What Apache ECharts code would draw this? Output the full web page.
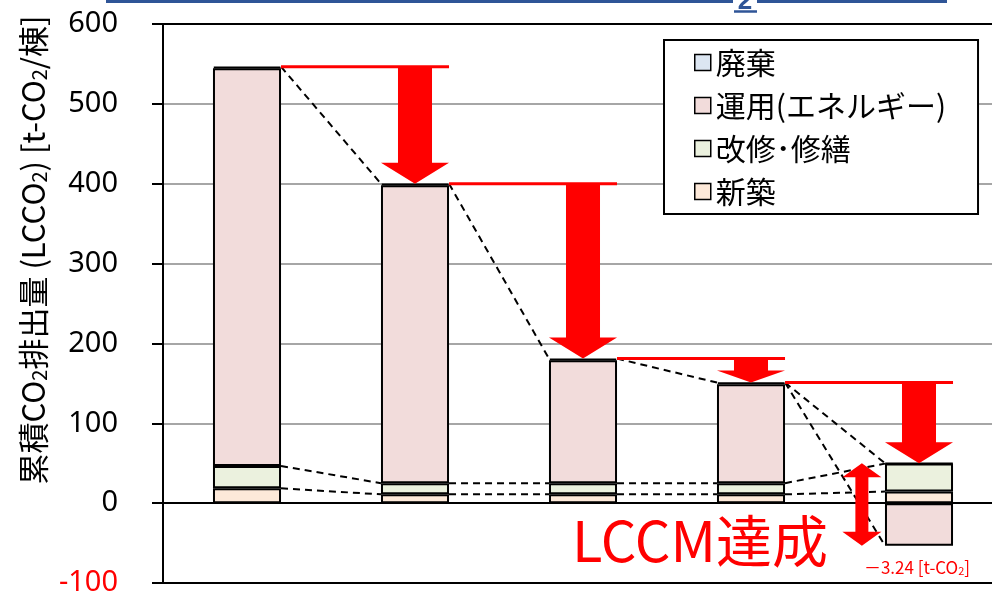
<!DOCTYPE html>
<html>
<head>
<meta charset="utf-8">
<script src="https://cdn.jsdelivr.net/npm/echarts@6/dist/echarts.min.js"></script>
<style>
  html, body { margin: 0; padding: 0; background: #fff; }
  #chart { width: 992px; height: 595px; }
</style>
</head>
<body>
<div id="chart"></div>
<script>
// Cases compared (no category labels are drawn on the axis)
const categories = ['1', '2', '3', '4', '5'];

// Cumulative CO2 per building [t-CO2], by life-cycle stage
const newBuild   = [18.5, 11, 11, 11, 14.5];     // 新築
const renovation = [28, 14, 14, 14, 35];         // 改修・修繕
const operation  = [498, 373, 154, 124, -53.24]; // 運用(エネルギー)
const disposal   = [2, 2, 2, 2, 0.5];            // 廃棄

// Value axis ticks
const yMin = -100, yMax = 600, yStep = 100;

const seriesNames = ['新築', '改修･修繕', '運用(エネルギー)', '廃棄'];
const fills = ['#FDE9D9', '#EBF1DE', '#F2DCDB', '#DCE6F2'];
const stages = [newBuild, renovation, operation, disposal];

const BAR_RATIO = 0.405;

// Derived stack levels
const newTop = newBuild.slice();
const renTop = newBuild.map((v, i) => v + renovation[i]);
const posTop = categories.map((_, i) => stages.reduce((s, a) => s + Math.max(a[i], 0), 0));
const negBottom = categories.map((_, i) => stages.reduce((s, a) => s + Math.min(a[i], 0), 0));
const total = categories.map((_, i) => stages.reduce((s, a) => s + a[i], 0));

// Dashed connectors between neighbouring bars, and the reduction arrows
const connectors = [];
const reductions = [];
for (let i = 0; i < categories.length - 1; i++) {
  connectors.push([i, newTop[i], newTop[i + 1]]);
  connectors.push([i, renTop[i], renTop[i + 1]]);
  if (negBottom[i + 1] < 0) {
    connectors.push([i, total[i], posTop[i + 1]]);
    connectors.push([i, total[i], negBottom[i + 1]]);
    reductions.push([i, total[i], posTop[i + 1]]);
  } else {
    connectors.push([i, total[i], total[i + 1]]);
    reductions.push([i, total[i], total[i + 1]]);
  }
}
const last = categories.length - 1;
const spans = [[last, posTop[last], negBottom[last]]];
const netLabels = [[last, total[last], negBottom[last]]];

const RED = '#FF0000';

function halfBar(api) {
  return api.size([1, 0])[0] * BAR_RATIO / 2;
}

const chart = echarts.init(document.getElementById('chart'), null, { renderer: 'canvas' });

const barSeries = seriesNames.map((name, k) => ({
  name: name,
  type: 'bar',
  stack: 'lcco2',
  barWidth: (BAR_RATIO * 100) + '%',
  data: stages[k],
  itemStyle: { color: fills[k], borderColor: '#000', borderWidth: 2 },
  z: 2,
  silent: true
}));

const option = {
  animation: false,
  grid: {
    left: 163, top: 24, right: -11, bottom: 12,
    outerBoundsMode: 'none',
    containLabel: false,
    show: true, borderColor: '#000', borderWidth: 2, backgroundColor: 'transparent'
  },
  legend: {
    data: ['廃棄', '運用(エネルギー)', '改修･修繕', '新築'],
    orient: 'vertical',
    left: 664, top: 40,
    padding: [7, 32, 7, 30],
    itemWidth: 16, itemHeight: 16, itemGap: 12,
    icon: 'rect',
    itemStyle: { borderWidth: 1.5, borderColor: '#000' },
    backgroundColor: '#fff', borderColor: '#000', borderWidth: 2,
    textStyle: { fontSize: 30, fontFamily: 'Noto Sans CJK JP', color: '#000', lineHeight: 31 },
    selectedMode: false
  },
  xAxis: {
    type: 'category',
    data: categories,
    axisLine: { show: true, lineStyle: { color: '#000', width: 2 } },
    axisTick: { show: false },
    axisLabel: { show: false },
    splitLine: { show: false }
  },
  yAxis: {
    type: 'value',
    min: yMin, max: yMax, interval: yStep,
    axisLine: { show: true, lineStyle: { color: '#000', width: 2 } },
    axisTick: { show: true, length: 11, lineStyle: { color: '#000', width: 2 } },
    axisLabel: {
      margin: 45,
      fontSize: 29,
      fontFamily: 'Noto Sans',
      color: v => (v < 0 ? RED : '#000')
    },
    splitLine: { show: true, showMinLine: false, showMaxLine: false, lineStyle: { color: '#A6A6A6', width: 2 } }
  },
  series: barSeries.concat([
    {
      name: 'connectors',
      type: 'custom',
      silent: true,
      z: 3,
      data: connectors,
      encode: { x: 0, y: [1, 2] },
      renderItem: function (params, api) {
        const i = api.value(0);
        const h = halfBar(api);
        const a = api.coord([i, api.value(1)]);
        const b = api.coord([i + 1, api.value(2)]);
        return {
          type: 'line',
          shape: { x1: a[0] + h, y1: a[1], x2: b[0] - h, y2: b[1] },
          style: { stroke: '#000', lineWidth: 2, lineDash: [7, 5], fill: null }
        };
      }
    },
    {
      name: 'reductions',
      type: 'custom',
      silent: true,
      z: 4,
      data: reductions,
      encode: { x: 0, y: [1, 2] },
      renderItem: function (params, api) {
        const i = api.value(0);
        const h = halfBar(api);
        const p0 = api.coord([i, api.value(1)]);
        const p1 = api.coord([i + 1, api.value(1)]);
        const p2 = api.coord([i + 1, api.value(2)]);
        const cx = p1[0];
        const yTop = p0[1];
        const yTip = p2[1];
        const head = Math.min(21, (yTip - yTop) * 0.5);
        const sh = h / 2;
        return {
          type: 'group',
          children: [
            {
              type: 'line',
              shape: { x1: p0[0] + h, y1: yTop, x2: p1[0] + h, y2: yTop },
              style: { stroke: RED, lineWidth: 3 }
            },
            {
              type: 'polygon',
              shape: {
                points: [
                  [cx - sh, yTop], [cx + sh, yTop], [cx + sh, yTip - head],
                  [cx + h, yTip - head], [cx, yTip], [cx - h, yTip - head],
                  [cx - sh, yTip - head]
                ]
              },
              style: { fill: RED }
            }
          ]
        };
      }
    },
    {
      name: 'span',
      type: 'custom',
      silent: true,
      z: 4,
      data: spans,
      encode: { x: 0, y: [1, 2] },
      renderItem: function (params, api) {
        const i = api.value(0);
        const band = api.size([1, 0])[0];
        const top = api.coord([i, api.value(1)]);
        const bot = api.coord([i, api.value(2)]);
        const cx = top[0] - band * 0.34;
        const y1 = top[1], y2 = bot[1];
        const sh = 6.5, hh = 19.5, head = 14;
        return {
          type: 'polygon',
          shape: {
            points: [
              [cx, y1], [cx + hh, y1 + head], [cx + sh, y1 + head],
              [cx + sh, y2 - head], [cx + hh, y2 - head], [cx, y2],
              [cx - hh, y2 - head], [cx - sh, y2 - head], [cx - sh, y1 + head],
              [cx - hh, y1 + head]
            ]
          },
          style: { fill: RED }
        };
      }
    },
    {
      name: 'net',
      type: 'custom',
      silent: true,
      z: 5,
      data: netLabels,
      encode: { x: 0, y: [1, 2] },
      renderItem: function (params, api) {
        const i = api.value(0);
        const v = api.value(1);
        const p = api.coord([i, api.value(2)]);
        const sign = v < 0 ? '－' : '';
        return {
          type: 'text',
          x: p[0] - 2,
          y: p[1] + 22,
          style: {
            text: sign + Math.abs(v).toFixed(2) + ' [t-CO{s|2}]',
            fill: RED,
            fontSize: 17,
            fontFamily: 'Noto Sans CJK JP',
            align: 'center',
            verticalAlign: 'middle',
            rich: { s: { fontSize: 11, fill: RED, fontFamily: 'Noto Sans CJK JP', verticalAlign: 'bottom', padding: [6, 0, 0, 0] } }
          }
        };
      }
    }
  ]),
  graphic: [
    // underline of the heading above the plot
    { type: 'line', shape: { x1: 106, y1: 1.5, x2: 733, y2: 1.5 }, style: { stroke: '#2F5597', lineWidth: 3 }, silent: true },
    { type: 'line', shape: { x1: 757, y1: 1.5, x2: 947, y2: 1.5 }, style: { stroke: '#2F5597', lineWidth: 3 }, silent: true },
    { type: 'text', x: 745, y: 15, style: { text: '2', fill: '#2F5597', fontSize: 26, fontWeight: 'bold', fontFamily: 'Liberation Sans', align: 'center', verticalAlign: 'bottom' }, silent: true },
    { type: 'line', shape: { x1: 734, y1: 11.5, x2: 757, y2: 11.5 }, style: { stroke: '#2F5597', lineWidth: 2.5 }, silent: true },
    // y-axis title
    {
      type: 'text',
      x: 33, y: 250,
      rotation: Math.PI / 2,
      silent: true,
      style: {
        text: '累積CO{s|2}排出量 (LCCO{s|2}) [t-CO{s|2}/棟]',
        fill: '#000',
        fontSize: 31,
        fontFamily: 'Noto Sans CJK JP',
        align: 'center',
        verticalAlign: 'middle',
        rich: { s: { fontSize: 20, fill: '#000', fontFamily: 'Noto Sans CJK JP', verticalAlign: 'bottom', padding: [12, 0, 0, 0] } }
      }
    },
    // achievement note
    {
      type: 'text',
      x: 572, y: 541,
      silent: true,
      style: { text: 'LCCM達成', fill: RED, fontSize: 56, fontFamily: 'Noto Sans CJK JP', align: 'left', verticalAlign: 'middle' }
    }
  ]
};

chart.setOption(option);
</script>
</body>
</html>
